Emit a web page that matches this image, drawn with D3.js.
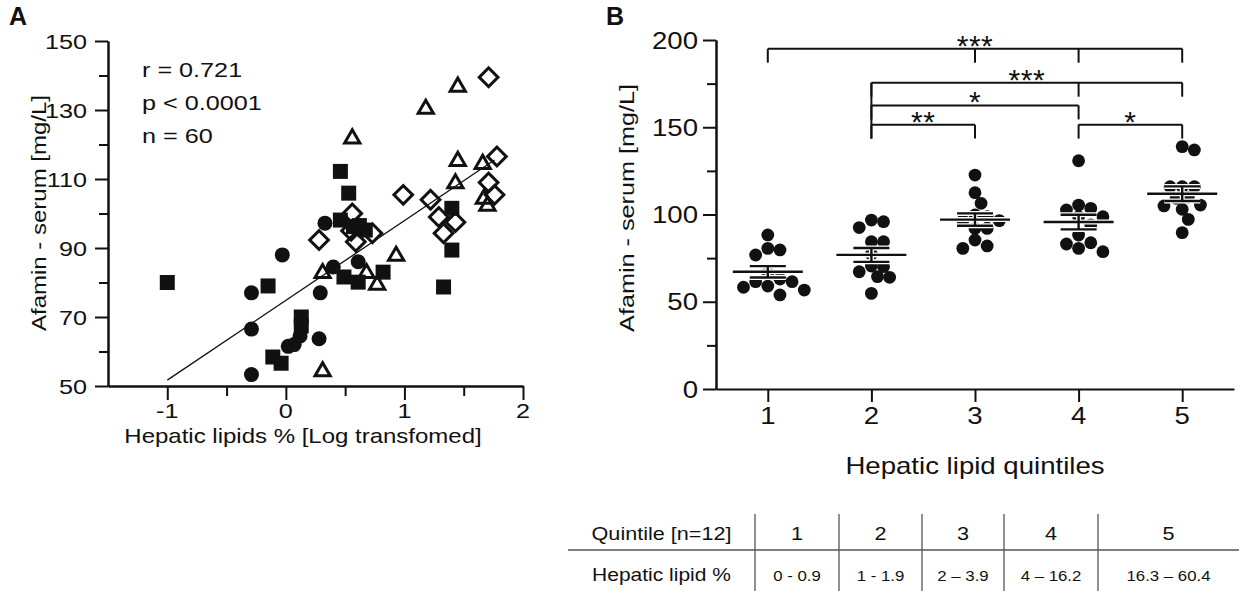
<!DOCTYPE html>
<html>
<head>
<meta charset="utf-8">
<script src="https://cdn.jsdelivr.net/npm/d3@7"></script>
<style>
  body { margin: 0; background: #fff; }
  text { font-family: "Liberation Sans", Arial, sans-serif; fill: #111; }
</style>
</head>
<body>
<div id="chart"></div>
<script>
// ---- Panel A: afamin vs log hepatic lipids ----
const circles = [[-0.29, 77], [-0.29, 66.5], [-0.29, 53.3], [-0.03, 88], [0.02, 61.5], [0.07, 62],
  [0.12, 64.5], [0.29, 77], [0.28, 63.7], [0.33, 97.2], [0.4, 84.5], [0.61, 86]];
const squares = [[-1, 80], [-0.15, 79], [-0.11, 58.4], [-0.04, 56.6], [0.13, 70], [0.13, 67.4],
  [0.46, 112.2], [0.53, 105.9], [0.46, 98.1], [0.57, 96.2], [0.67, 95.2], [0.49, 81.6],
  [0.61, 80.1], [0.82, 83], [1.4, 101.5], [1.4, 89.4], [1.33, 78.7], [0.62, 96.5]];
const triangles = [[0.56, 122], [1.18, 130.6], [1.45, 137], [1.45, 115.5], [1.43, 109], [1.66, 114.6],
  [1.67, 104.5], [1.7, 102.5], [0.31, 83], [0.93, 88], [0.77, 79.6], [0.31, 54.5], [0.68, 83]];
const diamonds = [[1.71, 139.5], [1.78, 116.5], [0.99, 105.4], [1.22, 104], [1.29, 99], [1.43, 97.5],
  [1.71, 109], [1.76, 105.4], [1.33, 94.3], [0.28, 92.3], [0.56, 100], [0.59, 91.8], [0.73, 94.3], [0.55, 95]];
const fitLine = [[-1, 51.7], [1.76, 115.5]];
const statsText = ['r = 0.721', 'p < 0.0001', 'n = 60'];
const xTicksA = [-1, 0, 1, 2];
const xMinorA = [-0.5, 0.5, 1.5];
const yTicksA = [50, 70, 90, 110, 130, 150];
const yMinorA = [60, 80, 100, 120, 140];

// ---- Panel B: afamin by hepatic lipid quintile ----
const quintiles = [1, 2, 3, 4, 5];
const q1 = [88.3, 76.8, 79.7, 80.6, 63, 58.3, 61.5, 53.9, 59, 56.7, 61.5, 66.5];
const q2 = [92.5, 96.8, 95.9, 84.4, 84.4, 77.2, 70.1, 67.2, 70.5, 64.4, 64, 54.8];
const q3 = [122.6, 112.5, 106.4, 96.5, 96.5, 99.7, 98.7, 92, 92, 85.4, 80.6, 82];
const q4 = [130.8, 105.4, 103.5, 102.6, 98.7, 94, 98.7, 88.2, 83.1, 83.8, 78.7, 80.6];
const q5 = [138.9, 137, 115.9, 115.9, 115.9, 105.4, 103, 104.9, 109.3, 97.2, 89.6, 110];
const groupValues = [q1, q2, q3, q4, q5];
const yTicksB = [0, 50, 100, 150, 200];
const yMinorB = [25, 75, 125, 175];
const brackets = [
  { from: 1, to: 5, ticks: [1, 3, 4, 5], level: 195, label: '***' },
  { from: 2, to: 5, ticks: [2, 4, 5], level: 175.5, label: '***' },
  { from: 2, to: 4, ticks: [2, 4], level: 162.5, label: '*' },
  { from: 2, to: 3, ticks: [2, 3], level: 151.5, label: '**' },
  { from: 4, to: 5, ticks: [4, 5], level: 151.5, label: '*' }
];

// ---- table under panel B ----
const tableHead = ['Quintile [n=12]', '1', '2', '3', '4', '5'];
const tableRow = ['Hepatic lipid %', '0 - 0.9', '1 - 1.9', '2 \u2013 3.9', '4 \u2013 16.2', '16.3 \u2013 60.4'];

const W = 1239, H = 591;
const SX = 1.2;   // the figure's lettering is wider than plain Arial
const ink = '#111';

const svg = d3.select('#chart').append('svg')
  .attr('width', W).attr('height', H)
  .attr('viewBox', '0 0 ' + W + ' ' + H);
svg.append('rect').attr('width', W).attr('height', H).attr('fill', '#fff');

function txt(g, x, y, str, size, anchor, rot) {
  return g.append('text')
    .attr('transform', `translate(${x},${y})` + (rot ? ` rotate(${rot})` : '') + ` scale(${SX},1)`)
    .attr('text-anchor', anchor || 'start').attr('font-size', size).text(str);
}
function styleAxis(g) {
  g.select('.domain').attr('stroke', ink).attr('stroke-width', 2);
  g.selectAll('.tick line').attr('stroke', ink).attr('stroke-width', 2);
}

// ================= Panel A =================
const xA = d3.scaleLinear().domain([-1.5, 2]).range([108, 523]);
const yA = d3.scaleLinear().domain([50, 150]).range([386, 41]);

svg.append('text').attr('x', 9).attr('y', 25).attr('font-size', 25).attr('font-weight', 'bold').text('A');

svg.append('g').attr('transform', 'translate(108,0)')
  .call(d3.axisLeft(yA).tickValues(yMinorA).tickSize(9).tickFormat('').tickSizeOuter(0)).call(styleAxis);
svg.append('g').attr('transform', 'translate(108,0)')
  .call(d3.axisLeft(yA).tickValues(yTicksA).tickSize(13).tickFormat('').tickSizeOuter(0)).call(styleAxis);
svg.append('g').attr('transform', 'translate(0,386)')
  .call(d3.axisBottom(xA).tickValues(xMinorA).tickSize(10).tickFormat('').tickSizeOuter(0)).call(styleAxis);
svg.append('g').attr('transform', 'translate(0,386)')
  .call(d3.axisBottom(xA).tickValues(xTicksA).tickSize(14).tickFormat('').tickSizeOuter(0)).call(styleAxis);

const lblA = svg.append('g');
yTicksA.forEach(v => txt(lblA, 87, yA(v) + 7.5, String(v), 21, 'end'));
xTicksA.forEach(v => txt(lblA, xA(v), 418, String(v), 21, 'middle'));
txt(lblA, 46, 213, 'Afamin - serum [mg/L]', 20, 'middle', -90);
txt(lblA, 303, 443, 'Hepatic lipids % [Log transfomed]', 20, 'middle');
statsText.forEach((s, i) => txt(lblA, 142, 77 + i * 33, s, 21, 'start'));

// regression line
svg.append('path').datum(fitLine)
  .attr('d', d3.line().x(d => xA(d[0])).y(d => yA(d[1])))
  .attr('stroke', ink).attr('stroke-width', 1.3).attr('fill', 'none');

const gA = svg.append('g');
gA.selectAll('.sq').data(squares).join('path').attr('class', 'sq')
  .attr('d', d3.symbol(d3.symbolSquare, 225)())
  .attr('transform', d => `translate(${xA(d[0])},${yA(d[1])})`)
  .attr('fill', ink);
gA.selectAll('.ci').data(circles).join('circle').attr('class', 'ci')
  .attr('cx', d => xA(d[0])).attr('cy', d => yA(d[1])).attr('r', 7.5)
  .attr('fill', ink);
gA.selectAll('.tr').data(triangles).join('path').attr('class', 'tr')
  .attr('d', d3.symbol(d3.symbolTriangle, 100)())
  .attr('transform', d => `translate(${xA(d[0])},${yA(d[1]) + 1})`)
  .attr('fill', 'none').attr('stroke', ink).attr('stroke-width', 3);
gA.selectAll('.di').data(diamonds).join('path').attr('class', 'di')
  .attr('d', d3.symbol(d3.symbolSquare, 175)())
  .attr('transform', d => `translate(${xA(d[0])},${yA(d[1])}) rotate(45)`)
  .attr('fill', 'none').attr('stroke', ink).attr('stroke-width', 3);

// ================= Panel B =================
const xB = d3.scaleLinear().domain([0.5, 5.5]).range([716, 1234]);
const yB = d3.scaleLinear().domain([0, 200]).range([389, 40]);

svg.append('text').attr('x', 606).attr('y', 25).attr('font-size', 25).attr('font-weight', 'bold').text('B');

svg.append('g').attr('transform', 'translate(716,0)')
  .call(d3.axisLeft(yB).tickValues(yMinorB).tickSize(9).tickFormat('').tickSizeOuter(0)).call(styleAxis);
svg.append('g').attr('transform', 'translate(716,0)')
  .call(d3.axisLeft(yB).tickValues(yTicksB).tickSize(13).tickFormat('').tickSizeOuter(0)).call(styleAxis);
svg.append('g').attr('transform', 'translate(0,389)')
  .call(d3.axisBottom(xB).tickValues(quintiles).tickSize(13).tickFormat('').tickSizeOuter(0)).call(styleAxis);

const lblB = svg.append('g');
yTicksB.forEach(v => txt(lblB, 698, yB(v) + 8.5, String(v), 23, 'end'));
quintiles.forEach(v => txt(lblB, xB(v), 424, String(v), 23, 'middle'));
txt(lblB, 634, 208, 'Afamin - serum [mg/L]', 21, 'middle', -90);
txt(lblB, xB(3), 474, 'Hepatic lipid quintiles', 23, 'middle');

// dodge dots horizontally so they do not overlap
const r = 6.4;
function dodge(vals) {
  const placed = [];
  const sorted = vals.map((v, i) => ({ v, i })).sort((a, b) => b.v - a.v);
  sorted.forEach(p => {
    const y = yB(p.v);
    for (let k = 0; k < 40; k++) {
      const step = Math.ceil(k / 2) * (k % 2 ? 1 : -1) * r * 0.95;
      const ok = placed.every(q => Math.hypot(q.dx - step, q.y - y) >= 2 * r - 1.5);
      if (ok) { placed.push({ v: p.v, y, dx: step }); break; }
    }
  });
  return placed;
}

const gB = svg.append('g');
groupValues.forEach((vals, gi) => {
  const cx = xB(quintiles[gi]);
  const pts = dodge(vals);
  gB.append('g').selectAll('circle').data(pts).join('circle')
    .attr('cx', d => cx + d.dx).attr('cy', d => d.y).attr('r', r).attr('fill', ink);

  const m = d3.mean(vals);
  const sem = d3.deviation(vals) / Math.sqrt(vals.length);
  const segs = [
    [cx - 35, yB(m), cx + 35, yB(m)],
    [cx - 18, yB(m + sem), cx + 18, yB(m + sem)],
    [cx - 18, yB(m - sem), cx + 18, yB(m - sem)],
    [cx, yB(m + sem), cx, yB(m - sem)]
  ];
  const g = gB.append('g');
  g.selectAll('.halo').data(segs).join('line').attr('class', 'halo')
    .attr('x1', d => d[0]).attr('y1', d => d[1]).attr('x2', d => d[2]).attr('y2', d => d[3])
    .attr('stroke', '#fff').attr('stroke-width', 5);
  g.selectAll('.bar').data(segs).join('line').attr('class', 'bar')
    .attr('x1', d => d[0]).attr('y1', d => d[1]).attr('x2', d => d[2]).attr('y2', d => d[3])
    .attr('stroke', ink).attr('stroke-width', 2.4);
});

// significance brackets
const dropVal = 8;
const gS = svg.append('g');
brackets.forEach(b => {
  const yL = yB(b.level);
  gS.append('line').attr('x1', xB(b.from)).attr('x2', xB(b.to)).attr('y1', yL).attr('y2', yL)
    .attr('stroke', ink).attr('stroke-width', 2);
  b.ticks.forEach(t => {
    gS.append('line').attr('x1', xB(t)).attr('x2', xB(t)).attr('y1', yL).attr('y2', yB(b.level - dropVal))
      .attr('stroke', ink).attr('stroke-width', 2);
  });
  gS.append('text').attr('x', (xB(b.from) + xB(b.to)) / 2).attr('y', yL + 7)
    .attr('text-anchor', 'middle').attr('font-size', 30).attr('letter-spacing', 0.5).text(b.label);
});
// shared left leg at quintile 2
const from2 = brackets.filter(b => b.from === 2);
gS.append('line').attr('x1', xB(2)).attr('x2', xB(2))
  .attr('y1', yB(d3.max(from2, b => b.level)))
  .attr('y2', yB(d3.min(from2, b => b.level) - dropVal))
  .attr('stroke', ink).attr('stroke-width', 2);

// ================= Table =================
const colEdges = [568, 755, 839, 922, 1004, 1098, 1239];
const colMid = colEdges.slice(0, -1).map((e, i) => (e + colEdges[i + 1]) / 2);
const gT = svg.append('g');
gT.append('line').attr('x1', 568).attr('x2', 1239).attr('y1', 550).attr('y2', 550)
  .attr('stroke', '#555').attr('stroke-width', 1.5);
colEdges.slice(1, -1).forEach(x => {
  gT.append('line').attr('x1', x).attr('x2', x).attr('y1', 514).attr('y2', 591)
    .attr('stroke', '#555').attr('stroke-width', 1.3);
});
tableHead.forEach((s, i) => txt(gT, colMid[i], 540, s, 18, 'middle'));
tableRow.forEach((s, i) => txt(gT, colMid[i], 581, s, i === 0 ? 17.5 : 14, 'middle'));
</script>
</body>
</html>
